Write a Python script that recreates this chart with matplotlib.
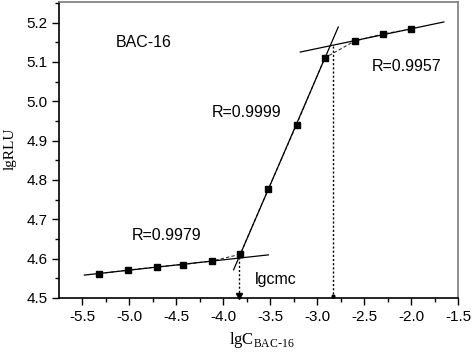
import numpy as np
import matplotlib
matplotlib.use("Agg")
import matplotlib.pyplot as plt
from matplotlib.ticker import MultipleLocator

# data
lgC = [-5.32, -5.01, -4.71, -4.43, -4.12, -3.82, -3.52, -3.22, -2.92, -2.60, -2.30, -2.00]
lgRLU = [4.562, 4.571, 4.579, 4.585, 4.594, 4.611, 4.777, 4.940, 5.110, 5.153, 5.171, 5.183]

# segment index ranges used for the linear fits, and their drawn x-extents
low_idx = [0, 5]
mid_idx = [5, 9]
high_idx = [9, 12]
low_span = [-5.48, -3.52]
mid_span = [-3.89, -2.775]
high_span = [-3.18, -1.65]

cmc_x = [-3.83, -2.83]
cmc_y = [4.603, 5.141]

r_labels = ["R=0.9979", "R=0.9999", "R=0.9957"]
r_pos = [(-4.60, 4.660), (-3.757, 4.971), (-2.043, 5.088)]

fig = plt.figure(figsize=(4.74, 3.58), dpi=100)
ax = fig.add_axes([0.1255, 0.1676, 0.9662 - 0.1255, 0.9953 - 0.1676])

x = np.array(lgC)
y = np.array(lgRLU)

# dashed connection through data
ax.plot(x, y, ls=(0, (3, 2)), color="#333333", lw=0.8, zorder=2)

for idx, span in [(low_idx, low_span), (mid_idx, mid_span), (high_idx, high_span)]:
    xs = x[idx[0]:idx[1]]
    ys = y[idx[0]:idx[1]]
    k, b = np.polyfit(xs, ys, 1)
    sx = np.array(span)
    ax.plot(sx, k * sx + b, color="black", lw=0.9, zorder=3)

ax.plot(x, y, ls="none", marker="s", ms=4.2, color="black", zorder=4)

# cmc drop lines
for cx, cy, mk, ms in zip(cmc_x, cmc_y, ["v", "."], [4, 4]):
    ax.plot([cx, cx], [cy, 4.5], ls=(0, (1.5, 1.5)), color="black", lw=1.0, zorder=3)
    ax.plot([cx], [4.506], marker=mk, ms=ms, color="black", zorder=5, clip_on=False)

ax.set_xlim(-5.745, -1.5)
ax.set_ylim(4.5, 5.253)
ax.xaxis.set_major_locator(MultipleLocator(0.5))
ax.xaxis.set_minor_locator(MultipleLocator(0.25))
ax.yaxis.set_major_locator(MultipleLocator(0.1))
ax.yaxis.set_minor_locator(MultipleLocator(0.05))
ax.tick_params(which="major", direction="out", length=5, width=1, labelsize=11,
               top=False, right=False)
ax.tick_params(which="minor", direction="out", length=3, width=1, top=False, right=False)
for lab in ax.get_xticklabels() + ax.get_yticklabels():
    lab.set_fontfamily("Liberation Sans")
ax.xaxis.set_major_formatter(matplotlib.ticker.FuncFormatter(lambda v, p: f"{v:.1f}"))
ax.yaxis.set_major_formatter(matplotlib.ticker.FuncFormatter(lambda v, p: f"{v:.1f}"))
for side in ["left", "bottom"]:
    ax.spines[side].set_linewidth(1.2)
    ax.spines[side].set_color("black")
for side in ["top", "right"]:
    ax.spines[side].set_linewidth(1.2)
    ax.spines[side].set_color("#7a7a7a")

tf = dict(family="Liberation Sans", fontsize=11.5, ha="center", va="center")
ax.text(-4.85, 5.149, "BAC-16", **tf)
for lab, (px, py) in zip(r_labels, r_pos):
    ax.text(px, py, lab, **tf)
ax.text(-3.441, 4.548, "lgcmc", **tf)

fig.text(0.022, 0.585, "lgRLU", rotation=90, family="Liberation Serif", fontsize=11,
         ha="center", va="center")
fig.text(0.553, 0.05, r"lgC$_{\mathregular{BAC\text{-}16}}$", family="Liberation Serif",
         fontsize=12, ha="center", va="center")

fig.savefig("out.png", dpi=100)
